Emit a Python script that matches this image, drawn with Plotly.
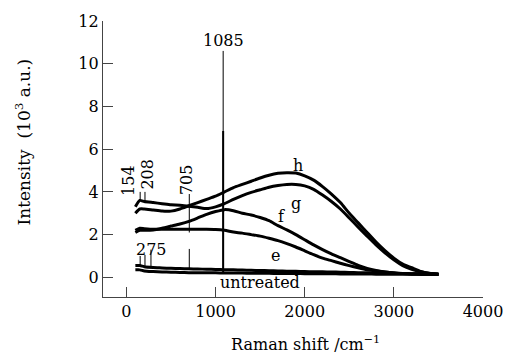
import plotly.graph_objects as go

# Raman shift sample positions (cm^-1)
shift = [100, 150, 200, 300, 400, 500, 600, 700, 800, 900, 1000, 1100, 1200, 1300,
         1400, 1500, 1600, 1700, 1800, 1900, 2000, 2100, 2200, 2300, 2400, 2500,
         2600, 2700, 2800, 2900, 3000, 3100, 3200, 3300, 3400, 3500]

# Intensities (10^3 a.u.)
h_vals = [3.0, 3.2, 3.2, 3.15, 3.1, 3.1, 3.2, 3.35, 3.5, 3.65, 3.8, 4.0, 4.2, 4.35,
          4.5, 4.65, 4.78, 4.87, 4.9, 4.88, 4.75, 4.55, 4.25, 3.9, 3.5, 3.0,
          2.55, 2.1, 1.65, 1.25, 0.9, 0.62, 0.45, 0.28, 0.19, 0.15]
g_vals = [3.3, 3.6, 3.55, 3.5, 3.45, 3.4, 3.38, 3.33, 3.28, 3.22, 3.3, 3.45, 3.65, 3.83,
          3.98, 4.1, 4.22, 4.3, 4.35, 4.35, 4.28, 4.12, 3.85, 3.55, 3.2, 2.78,
          2.35, 1.93, 1.52, 1.15, 0.82, 0.55, 0.38, 0.26, 0.18, 0.15]
f_vals = [2.1, 2.2, 2.2, 2.22, 2.3, 2.4, 2.5, 2.62, 2.78, 2.95, 3.08, 3.17, 3.12, 3.0,
          2.92, 2.8, 2.65, 2.42, 2.22, 2.0, 1.76, 1.52, 1.3, 1.1, 0.92, 0.74,
          0.56, 0.42, 0.32, 0.25, 0.2, 0.18, 0.16, 0.15, 0.14, 0.13]
e_vals = [2.2, 2.3, 2.28, 2.25, 2.25, 2.25, 2.25, 2.25, 2.25, 2.25, 2.24, 2.2, 2.12, 2.07,
          2.0, 1.93, 1.83, 1.72, 1.58, 1.42, 1.24, 1.06, 0.9, 0.78, 0.66, 0.55,
          0.45, 0.36, 0.3, 0.25, 0.21, 0.18, 0.16, 0.15, 0.14, 0.13]
untreated_vals = [0.55, 0.55, 0.5, 0.46, 0.44, 0.42, 0.41, 0.4, 0.39, 0.38, 0.37, 0.36, 0.35, 0.34,
                  0.33, 0.32, 0.31, 0.3, 0.29, 0.28, 0.27, 0.26, 0.26, 0.25, 0.24, 0.23,
                  0.22, 0.21, 0.2, 0.19, 0.18, 0.18, 0.17, 0.17, 0.16, 0.16]
untreated_low = [0.35, 0.35, 0.3, 0.27, 0.25, 0.24, 0.23, 0.22, 0.22, 0.21, 0.21, 0.2, 0.2, 0.2,
                 0.19, 0.19, 0.19, 0.18, 0.18, 0.18, 0.17, 0.17, 0.17, 0.17, 0.16, 0.16,
                 0.16, 0.16, 0.15, 0.15, 0.15, 0.15, 0.15, 0.15, 0.15, 0.15]

# Sharp Raman peaks: position, base, top
spike_pos = [154, 208, 275, 705, 1085, 154, 208, 705, 1085]
spike_base = [0.5, 0.5, 0.45, 0.4, 0.37, 3.6, 3.55, 2.1, 0.2]
spike_top = [1.0, 1.05, 1.3, 1.33, 10.6, 4.0, 4.0, 3.9, 6.85]
spike_width = [1, 1, 1, 1, 1, 1, 1, 1, 2]

# Text labels
peak_labels = ["154", "208", "705"]
peak_label_x = [15, 240, 668]
peak_label_y = [4.55, 4.85, 4.6]
curve_labels = ["h", "g", "f", "e", "untreated", "275", "1085"]
curve_label_x = [1924, 1905, 1745, 1667, 1500, 286, 1084]
curve_label_y = [5.24, 3.45, 2.85, 1.0, -0.25, 1.29, 11.08]

FONT = "DejaVu Serif"
FS = 16
fig = go.Figure()

for name, vals in [("h", h_vals), ("g", g_vals), ("f", f_vals), ("e", e_vals),
                   ("untreated", untreated_vals), ("untreated ", untreated_low)]:
    fig.add_trace(go.Scatter(x=shift, y=vals, mode="lines", name=name,
                             line=dict(color="black", width=3, shape="spline", smoothing=0.6),
                             showlegend=False))

for p, b, t, w in zip(spike_pos, spike_base, spike_top, spike_width):
    fig.add_trace(go.Scatter(x=[p, p], y=[b, t], mode="lines",
                             line=dict(color="black", width=w), showlegend=False))

for t, x, y in zip(peak_labels, peak_label_x, peak_label_y):
    fig.add_annotation(x=x, y=y, text=t, showarrow=False, textangle=-90,
                       font=dict(family=FONT, size=FS, color="black"))
for t, x, y in zip(curve_labels, curve_label_x, curve_label_y):
    fig.add_annotation(x=x, y=y, text=t, showarrow=False,
                       font=dict(family=FONT, size=FS, color="black"))

fig.add_annotation(xref="paper", yref="paper", x=0, y=0.56, xshift=-80,
                   xanchor="center", yanchor="middle",
                   text="Intensity  (10<sup>3</sup> a.u.)", textangle=-90, showarrow=False,
                   font=dict(family=FONT, size=17, color="black"))
fig.add_annotation(xref="paper", yref="paper", x=0.534, y=0, yshift=-46,
                   xanchor="center", yanchor="middle",
                   text="Raman shift /cm<sup>\u22121</sup>", showarrow=False,
                   font=dict(family=FONT, size=FS, color="black"))

axis_common = dict(showline=True, linecolor="#444", linewidth=1.3, ticks="inside",
                   ticklen=10, tickwidth=1.3, tickcolor="#444", showgrid=False,
                   zeroline=False,
                   tickfont=dict(family=FONT, size=FS, color="black"))
fig.update_xaxes(range=[-263, 4000], tickvals=[0, 1000, 2000, 3000, 4000], **axis_common)
fig.update_yaxes(range=[-0.92, 12], tickvals=[0, 2, 4, 6, 8, 10, 12], **axis_common)

fig.update_layout(width=515, height=354, margin=dict(l=103, r=32, t=16, b=57),
                  paper_bgcolor="white", plot_bgcolor="white", showlegend=False)
fig.write_html("out.html")
